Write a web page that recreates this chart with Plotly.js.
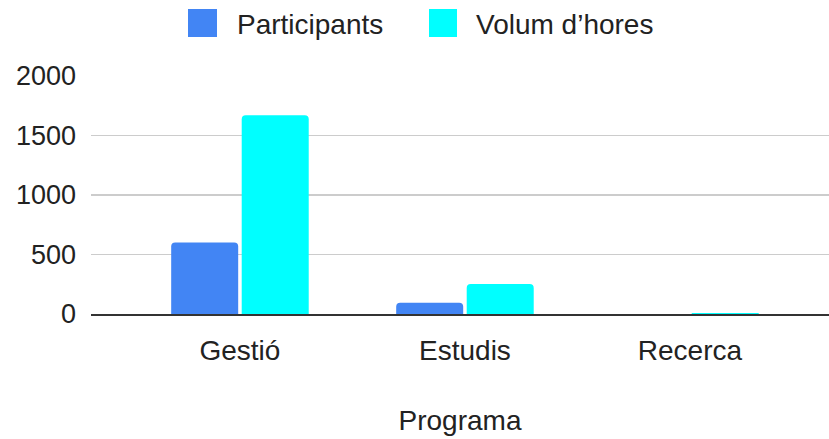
<!DOCTYPE html>
<html>
<head>
<meta charset="utf-8">
<script src="https://cdn.plot.ly/plotly-3.0.1.min.js"></script>
<style>html,body{margin:0;padding:0;background:#fff;}#chart{width:829px;height:439px;}</style>
</head>
<body>
<div id="chart"></div>
<script>
const categories = ["Gestió", "Estudis", "Recerca"];
const seriesNames = ["Participants", "Volum d’hores"];
const participants = [600, 94, 1];
const volumHores = [1670, 252, 8];
const yTicks = [0, 500, 1000, 1500, 2000];
const xTitle = "Programa";

const colors = ["#4285F4", "#00FFFF"];
const FONT = "Arial, 'Liberation Sans', sans-serif";
const W = 829, H = 439, ML = 91, MR = 0, MT = 76, MB = 125;
const PW = W - ML - MR, PH = H - MT - MB;
const px = x => (x - ML) / PW;
const py = y => (H - MB - y) / PH;

const traces = [participants, volumHores].map((vals, i) => ({
  type: "bar",
  name: seriesNames[i],
  x: categories,
  y: vals,
  marker: { color: colors[i], cornerradius: 4 },
  showlegend: false,
  hoverinfo: "x+y+name"
}));

// custom legend (large squares) built from series names/colors
const legendItems = [
  { sq: [188, 217], tx: 235 },
  { sq: [429, 457], tx: 474 }
];
const shapes = legendItems.map((it, i) => ({
  type: "rect", xref: "paper", yref: "paper",
  x0: px(it.sq[0]), x1: px(it.sq[1]), y0: py(37), y1: py(9),
  fillcolor: colors[i], line: { width: 0 }, layer: "above"
}));
const annotations = legendItems.map((it, i) => ({
  xref: "paper", yref: "paper", x: px(it.tx), y: py(24),
  xanchor: "left", yanchor: "middle", showarrow: false,
  text: seriesNames[i], font: { family: FONT, size: 28, color: "#222" }
}));

const layout = {
  width: W, height: H,
  margin: { l: ML, r: MR, t: MT, b: MB, pad: 0 },
  paper_bgcolor: "#fff", plot_bgcolor: "#fff",
  barmode: "group", bargap: 0.373, bargroupgap: 0.05,
  showlegend: false,
  font: { family: FONT, size: 28, color: "#222" },
  xaxis: {
    type: "category",
    range: [-0.662, 2.618],
    showgrid: false, zeroline: false,
    showline: true, linecolor: "#333", linewidth: 2,
    layer: "above traces",
    ticks: "", ticklabelstandoff: 10,
    tickfont: { family: FONT, size: 28, color: "#222" },
    title: { text: xTitle, standoff: 46, font: { family: FONT, size: 28, color: "#222" } },
    automargin: false, fixedrange: true
  },
  yaxis: {
    range: [0, 2000],
    tickvals: yTicks, ticktext: yTicks.map(String),
    showgrid: true, gridcolor: "#cccccc", gridwidth: 1.5,
    zeroline: false, showline: false,
    ticks: "", ticklabelstandoff: 14,
    tickfont: { family: FONT, size: 27, color: "#222" },
    automargin: false, fixedrange: true
  },
  shapes: shapes,
  annotations: annotations
};

Plotly.newPlot("chart", traces, layout, { displayModeBar: false, staticPlot: true });
</script>
</body>
</html>
